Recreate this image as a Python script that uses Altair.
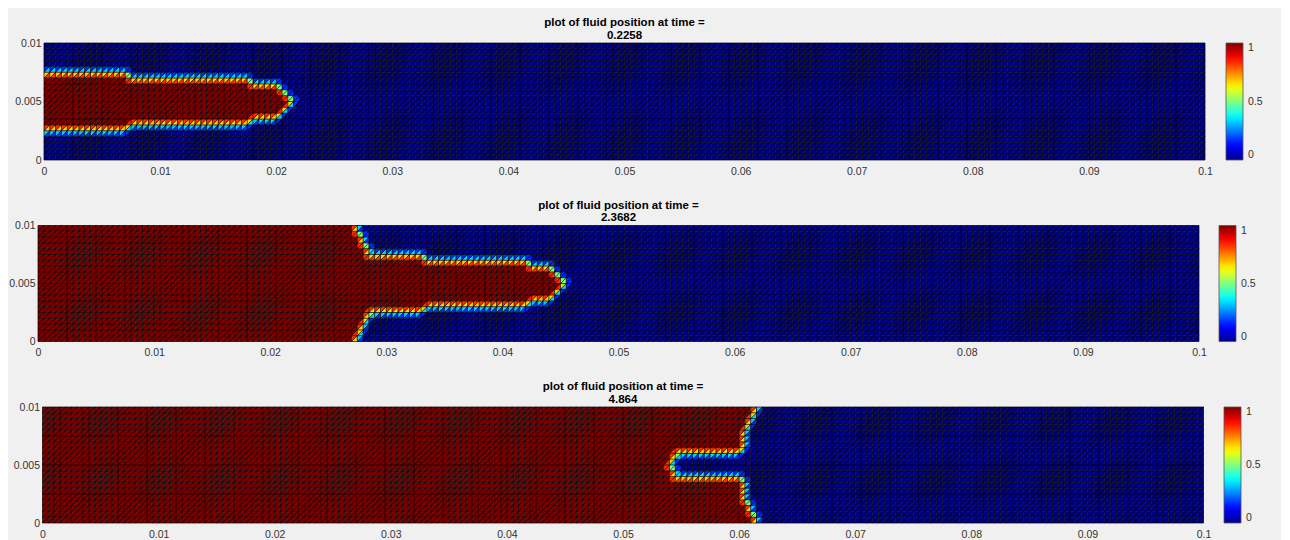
import altair as alt
import numpy as np
import pandas as pd

# ---------------- data ----------------
NX, NY = 200, 20          # mesh cells along x and y
DX = 0.0005               # cell size (m)

TITLE_LINE = "plot of fluid position at time ="
TIMES = ["0.2258", "2.3682", "4.864"]

# furthest x reached by the fluid on each node row j (y = j*DX, j = 0 bottom .. 20 top); -1 = no fluid
FRONT_T1 = [-1, -1, -1, -1, -1, -1, 0.0070, 0.0175, 0.0200, 0.0205, 0.0210,
            0.0205, 0.0200, 0.0175, 0.0070, -1, -1, -1, -1, -1, -1]
FRONT_T2 = [0.0270, 0.0270, 0.0275, 0.0275, 0.0280, 0.0280, 0.0330, 0.0420, 0.0440, 0.0445, 0.0450,
            0.0445, 0.0440, 0.0420, 0.0330, 0.0280, 0.0280, 0.0275, 0.0275, 0.0270, 0.0270]
FRONT_T3 = [0.0610, 0.0610, 0.0605, 0.0605, 0.0600, 0.0600, 0.0600, 0.0600, 0.0540, 0.0540, 0.0535,
            0.0540, 0.0540, 0.0600, 0.0600, 0.0600, 0.0600, 0.0605, 0.0605, 0.0610, 0.0610]
FRONTS = [FRONT_T1, FRONT_T2, FRONT_T3]
INTERFACE_LEVEL = 0.5     # value of the nodes right at the fluid interface

X_TICKS = [0, 0.01, 0.02, 0.03, 0.04, 0.05, 0.06, 0.07, 0.08, 0.09, 0.1]
Y_TICKS = [0, 0.005, 0.01]
BAR_TICKS = [0, 0.5, 1]
JET_STOPS = [0, 0.125, 0.375, 0.625, 0.875, 1]
JET_COLORS = ["#00008f", "#0000ff", "#00ffff", "#ffff00", "#ff0000", "#800000"]

# ---------------- layout / style ----------------
PLOT_W = 1161
PLOT_H = [117, 116, 116]
X_SHIFT = [0, -6, -1.5]          # panel 2 (and a little panel 3) sit further left in the picture
LEG_OFFSET = [21, 14, 19]
FONT = "Liberation Sans"
LABEL_COLOR = "#333333"
LABEL_SIZE = 10.5


def node_values(front):
    xs = np.arange(NX + 1) * DX
    f = np.array(front, dtype=float)
    inside = xs[:, None] <= f[None, :] + 1e-9
    adj = np.zeros_like(inside)
    adj[1:, :] |= inside[:-1, :]
    adj[:-1, :] |= inside[1:, :]
    adj[:, 1:] |= inside[:, :-1]
    adj[:, :-1] |= inside[:, 1:]
    n = inside.astype(float)
    n[(~inside) & adj] = INTERFACE_LEVEL
    return n


def tables(front):
    n = node_values(front)
    lr = (n[:-1, :-1] + n[1:, :-1] + n[1:, 1:]) / 3.0   # lower-right triangle of each cell
    ul = (n[:-1, :-1] + n[:-1, 1:] + n[1:, 1:]) / 3.0   # upper-left triangle of each cell
    cells, tris = [], []
    tid = 0
    for i in range(NX):
        for j in range(NY):
            x0, x1 = round(i * DX, 6), round((i + 1) * DX, 6)
            y0, y1 = round(j * DX, 6), round((j + 1) * DX, 6)
            cells.append({"x": x0, "x2": x1, "y": y0, "y2": y1, "v": round(lr[i, j], 4)})
            if abs(ul[i, j] - lr[i, j]) > 1e-9:
                v = round(ul[i, j], 4)
                tris.append({"x": x0, "y": y0, "y2": y1, "v": v, "tri": tid})
                tris.append({"x": x1, "y": y1, "y2": y1, "v": v, "tri": tid})
                tid += 1
    return pd.DataFrame(cells), pd.DataFrame(tris)


def mesh_table():
    rows = []
    for i in range(NX + 1):
        rows.append({"x": round(i * DX, 6), "x2": round(i * DX, 6), "y": 0.0, "y2": round(NY * DX, 6)})
    for j in range(NY + 1):
        rows.append({"x": 0.0, "x2": round(NX * DX, 6), "y": round(j * DX, 6), "y2": round(j * DX, 6)})
    for k in range(-NY + 1, NX):           # diagonals through nodes with i - j = k
        j0, j1 = max(0, -k), min(NY, NX - k)
        rows.append({"x": round((k + j0) * DX, 6), "x2": round((k + j1) * DX, 6),
                     "y": round(j0 * DX, 6), "y2": round(j1 * DX, 6)})
    return pd.DataFrame(rows)


MESH = mesh_table()


def panel(idx):
    cells_df, tri_df = tables(FRONTS[idx])
    h = PLOT_H[idx]
    sh = X_SHIFT[idx]

    y_axis = alt.Axis(values=Y_TICKS, format="~g", title=None, labelFlush=False, ticks=False,
                      domain=False, grid=False, labelPadding=3 - sh, labelFontSize=LABEL_SIZE,
                      labelColor=LABEL_COLOR, labelFont=FONT)
    x_axis = alt.Axis(values=X_TICKS, format="~g", title=None, labelFlush=False, ticks=False,
                      domain=False, grid=False, labelPadding=6, labelFontSize=LABEL_SIZE,
                      labelColor=LABEL_COLOR, labelFont=FONT)
    x_scale = alt.Scale(domain=[0, 0.1], range=[sh, sh + PLOT_W], nice=False, zero=False)
    y_scale = alt.Scale(domain=[0, 0.01], nice=False, zero=False)
    color_scale = alt.Scale(domain=JET_STOPS, range=JET_COLORS, interpolate="rgb")
    legend = alt.Legend(title=None, values=BAR_TICKS, format="~g", orient="right",
                        direction="vertical", gradientLength=h, gradientThickness=17,
                        offset=LEG_OFFSET[idx], padding=0, labelOffset=5,
                        labelFontSize=LABEL_SIZE, labelColor=LABEL_COLOR, labelFont=FONT,
                        labelBaseline="middle", gradientStrokeColor="#555555",
                        gradientStrokeWidth=0.8)

    cells = alt.Chart(cells_df).mark_rect().encode(
        x=alt.X("x:Q", scale=x_scale, axis=x_axis), x2=alt.X2("x2"),
        y=alt.Y("y:Q", scale=y_scale, axis=y_axis), y2=alt.Y2("y2"),
        color=alt.Color("v:Q", scale=color_scale, legend=legend),
    )
    tris = alt.Chart(tri_df).mark_area(orient="vertical", interpolate="linear").encode(
        x=alt.X("x:Q", scale=x_scale, axis=x_axis),
        y=alt.Y("y:Q", scale=y_scale, axis=y_axis, stack=None),
        y2=alt.Y2("y2"),
        color=alt.Color("v:Q", scale=color_scale, legend=legend),
        detail="tri:N",
    )
    mesh = alt.Chart(MESH).mark_rule(color="black", strokeWidth=0.7, opacity=1).encode(
        x=alt.X("x:Q", scale=x_scale, axis=x_axis), x2=alt.X2("x2"),
        y=alt.Y("y:Q", scale=y_scale, axis=y_axis), y2=alt.Y2("y2"),
    )
    return alt.layer(cells, tris, mesh).properties(
        width=PLOT_W, height=h,
        title=alt.TitleParams(text=[TITLE_LINE, TIMES[idx]], fontSize=11.5, fontWeight="bold", font=FONT,
                              color="black", offset=-3, dx=sh, anchor="middle", lineHeight=12.5,
                              frame="group"),
    )


chart = alt.concat(panel(0), panel(1), panel(2), columns=1, spacing=22.5).resolve_scale(
    color="independent"
).properties(
    background="#f0f0f0",
    padding={"left": 0, "top": 9, "right": 18, "bottom": 5},
).configure_view(strokeWidth=0)

chart.save("out.html", embed_options={"renderer": "svg", "actions": False})
